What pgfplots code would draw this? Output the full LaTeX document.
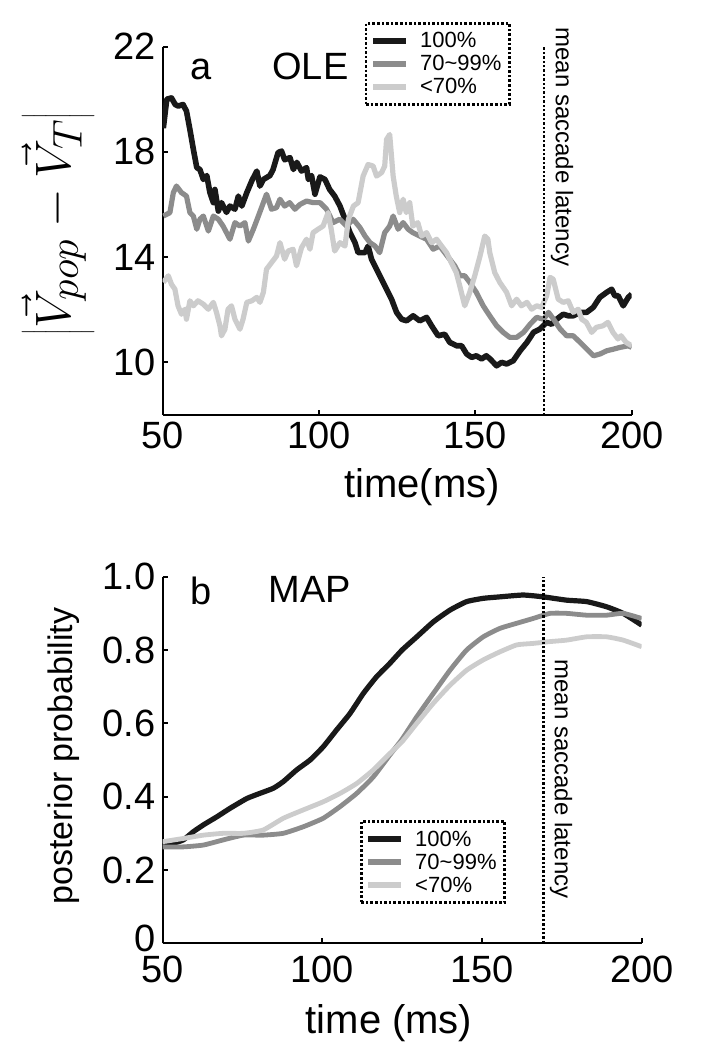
\documentclass[border=0pt]{standalone}
\usepackage{pgfplots}
\pgfplotsset{compat=1.18}
\usepackage{fontspec}
\setmainfont{Liberation Sans}
\definecolor{cBlack}{gray}{0.1}
\definecolor{cDark}{gray}{0.55}
\definecolor{cLight}{gray}{0.8}
\begin{document}
\begin{tikzpicture}
\useasboundingbox (0,0) rectangle (352.5pt,525pt);
\pgfplotsset{
  myaxis/.style={
    scale only axis,
    axis x line*=bottom, axis y line*=left,
    axis line style={line width=1pt,-},
    every tick/.style={black, line width=1pt},
    major tick length=2.5pt,
    tick align=inside,
    xmin=50,xmax=200, xtick={50,100,150,200},
    tick label style={font=\fontsize{19}{22}\selectfont},
    /pgf/number format/assume math mode=true,
    legend cell align=left,
    legend style={draw=black, densely dotted, line width=1.3pt, font=\fontsize{11}{13}\selectfont,
      inner xsep=2pt, inner ysep=3pt, row sep=0pt, anchor=north west,
      nodes={text height=8.7pt, text depth=1.6pt, inner ysep=0.6pt, inner xsep=2pt}},
    legend image code/.code={\draw[#1, solid, line width=3pt] (0pt,0pt) -- (16.5pt,0pt);},
  }
}
% ---------------- top panel (OLE)
\begin{axis}[myaxis, at={(81.35pt,317.5pt)}, anchor=south west, width=234.5pt, height=184.2pt,
  ymin=8, ymax=22, ytick={10,14,18,22}, legend style={at={(0.431,1.067)}}]
\addplot[cBlack, line width=2.8pt, line join=round] coordinates {
(50.2,18.9)(51.3,20.0)(52.8,20.05)(54.0,19.8)(55.0,19.74)(56.5,19.8)(57.6,19.55)(58.7,18.85)(59.8,18.1)(60.9,17.4)(61.9,17.33)(63.0,16.95)(64.1,17.1)(65.1,16.45)(66.2,16.07)(66.7,16.57)(67.8,15.75)(68.8,16.07)(70.4,15.7)(71.5,15.94)(73.1,15.82)(74.2,16.32)(75.3,15.94)(76.9,16.45)(78.5,16.9)(80.1,17.27)(81.1,16.7)(82.2,16.95)(84.3,17.1)(85.3,17.33)(86.9,17.97)(88.0,18.03)(89.0,17.7)(90.7,17.78)(91.8,17.33)(92.9,17.6)(94.4,17.27)(96.0,17.4)(96.6,16.95)(97.6,17.1)(98.7,16.39)(100.3,17.05)(101.9,16.95)(103.4,16.57)(105.0,16.32)(106.7,15.94)(108.3,15.44)(109.9,14.93)(111.5,14.55)(112.5,14.17)(114.7,14.17)(115.7,14.42)(116.8,13.92)(118.4,13.54)(120.0,13.16)(121.6,12.78)(123.2,12.40)(124.8,11.9)(126.4,11.64)(128.0,11.58)(130.1,11.77)(132.2,11.58)(134.4,11.71)(136.0,11.39)(138.1,11.01)(140.2,11.07)(141.8,10.76)(144.0,10.63)(145.6,10.63)(147.2,10.32)(148.8,10.19)(150.3,10.25)(152.0,10.13)(153.5,10.25)(154.7,10.13)(156.8,9.87)(158.4,10.0)(160.0,9.94)(162.1,10.06)(164.3,10.44)(166.5,10.76)(168.6,11.14)(170.7,11.27)(172.8,11.52)(174.4,11.45)(176.0,11.64)(178.1,11.83)(179.7,11.77)(181.3,11.77)(183.5,11.9)(185.6,11.9)(187.7,12.09)(189.8,12.47)(192.0,12.66)(193.6,12.78)(194.6,12.53)(195.7,12.53)(197.3,12.15)(198.9,12.47)(200,12.59)
};
\addlegendentry{\hspace{3.5pt}100\%}
\addplot[cDark, line width=2.6pt, line join=round] coordinates {
(50.2,15.56)(52.3,15.69)(53.4,16.45)(54.4,16.7)(56.0,16.45)(57.6,16.32)(58.7,15.69)(59.8,15.56)(60.9,15.06)(61.9,15.44)(63.0,15.56)(64.6,14.99)(66.2,15.56)(67.8,15.44)(69.3,15.18)(71.5,14.68)(73.1,15.31)(74.7,15.18)(76.3,15.31)(77.4,14.61)(79.0,15.06)(80.6,15.56)(82.2,16.07)(83.2,16.39)(84.8,15.82)(86.4,15.88)(87.5,16.2)(89.0,15.94)(90.6,16.07)(92.3,15.82)(93.9,16.0)(96.0,16.13)(98.1,16.07)(100.3,16.07)(102.4,15.82)(104.5,15.31)(106.6,15.44)(108.8,15.18)(110.9,15.44)(113.1,15.12)(114.7,14.8)(116.3,14.55)(117.9,14.42)(119.4,14.17)(121.0,14.93)(122.6,15.18)(123.7,15.56)(125.3,15.06)(126.9,15.31)(128.5,15.06)(130.0,14.93)(132.2,14.8)(134.4,14.68)(136.5,14.3)(138.6,14.42)(140.2,14.17)(141.8,13.92)(143.4,13.67)(145.1,13.29)(146.6,13.29)(148.2,13.04)(150.3,12.66)(152.5,12.15)(154.6,11.77)(156.8,11.39)(158.9,11.14)(161.0,10.95)(163.2,10.95)(165.4,11.14)(167.5,11.45)(169.6,11.71)(171.8,11.64)(173.4,11.9)(175.0,11.64)(177.1,11.27)(179.2,11.01)(181.3,11.01)(183.5,10.76)(185.7,10.5)(187.8,10.25)(189.9,10.32)(192.0,10.44)(194.1,10.5)(196.3,10.57)(198.9,10.63)(200,10.57)
};
\addlegendentry{\hspace{3.5pt}70\textasciitilde 99\%}
\addplot[cLight, line width=2.6pt, line join=round] coordinates {
(50.2,13.04)(51.8,13.29)(52.8,12.97)(53.9,12.78)(54.9,12.15)(56.0,11.83)(57.1,12.02)(57.6,11.64)(58.7,12.34)(59.8,12.15)(61.3,12.34)(63.0,12.21)(64.6,12.02)(66.2,12.28)(67.2,11.9)(68.3,11.39)(68.8,11.01)(69.9,11.26)(70.9,12.02)(72.0,12.15)(73.1,11.64)(74.7,11.26)(75.7,11.64)(76.9,12.28)(78.5,12.34)(80.1,12.47)(81.1,12.28)(82.2,12.66)(83.2,13.54)(84.8,13.79)(86.4,14.04)(87.5,14.55)(89.0,13.92)(90.1,14.23)(91.7,14.3)(92.8,13.67)(94.4,14.36)(96.0,14.68)(97.1,14.3)(98.1,14.93)(99.7,15.06)(101.3,15.18)(102.9,15.69)(103.9,15.06)(105.0,14.23)(106.7,14.55)(108.3,14.42)(109.4,15.44)(111.0,15.94)(112.5,16.07)(114.1,17.08)(115.7,17.52)(117.3,17.46)(118.4,17.08)(120.0,17.21)(121.0,17.46)(121.6,18.47)(122.6,18.66)(123.7,17.08)(124.7,16.32)(125.8,15.69)(126.9,16.2)(127.9,15.69)(129.0,16.07)(130.0,15.18)(131.6,15.31)(132.8,14.8)(134.4,14.93)(136.0,14.55)(137.6,14.68)(139.2,14.42)(140.8,14.17)(142.3,13.79)(143.9,13.41)(145.0,12.91)(146.6,12.15)(148.2,12.66)(149.8,13.29)(151.4,14.0)(153.0,14.8)(154.0,14.68)(154.6,14.17)(156.2,13.41)(157.8,13.04)(160.0,12.66)(161.6,12.15)(163.2,12.4)(164.7,12.15)(166.5,12.28)(168.0,12.02)(169.6,12.15)(171.2,12.09)(172.8,12.53)(173.9,13.23)(174.9,13.16)(176.5,12.4)(178.1,12.28)(179.7,12.34)(181.3,11.9)(182.9,12.02)(184.0,11.64)(185.5,11.52)(187.2,11.14)(188.7,11.33)(190.8,11.39)(192.4,11.52)(194.0,11.14)(195.6,10.89)(196.6,11.01)(198.2,10.76)(200,10.63)
};
\addlegendentry{\hspace{3.5pt}<70\%}
\addplot[black, densely dotted, line width=1.2pt, forget plot] coordinates {(172,8) (172,22)};
\end{axis}
% ---------------- bottom panel (MAP)
\begin{axis}[myaxis, at={(81.25pt,53.35pt)}, anchor=south west, width=239.6pt, height=183.3pt,
  ymin=0, ymax=1, ytick={0,0.2,0.4,0.6,0.8,1}, yticklabels={\raisebox{5pt}{0},0.2,0.4,0.6,0.8,1.0},
  xticklabel style={yshift=-3pt},
  legend style={at={(0.412,0.336)}}]
\addplot[cBlack, line width=2.6pt, smooth, tension=0.3] coordinates {
(50,0.27)(53,0.272)(56.5,0.282)(59.6,0.304)(62.8,0.323)(67.0,0.345)(71.1,0.368)(76.4,0.395)(80.5,0.409)(84.7,0.423)(87.8,0.441)(92.0,0.473)(96.2,0.5)(100.3,0.536)(104.5,0.582)(108.7,0.627)(112.9,0.682)(117.0,0.727)(121.2,0.764)(125,0.80)(129.6,0.836)(134.8,0.877)(140.0,0.909)(145.2,0.932)(150.4,0.941)(155.6,0.945)(162.9,0.95)(169.2,0.945)(176.5,0.936)(182.8,0.932)(189.0,0.918)(194.2,0.9)(200,0.868)
};
\addlegendentry{\hspace{3.5pt}100\%}
\addplot[cDark, line width=2.4pt, smooth, tension=0.3] coordinates {
(50,0.263)(56.5,0.263)(62.8,0.268)(69.0,0.282)(75.3,0.295)(81.5,0.295)(87.8,0.3)(94.1,0.318)(100.3,0.341)(105.6,0.373)(110.8,0.409)(116.0,0.454)(121.2,0.514)(125,0.557)(129.6,0.618)(134.8,0.682)(140.0,0.745)(145.2,0.8)(150.4,0.836)(155.6,0.859)(160.9,0.873)(166.0,0.886)(171.3,0.9)(176.5,0.9)(182.8,0.895)(189.0,0.895)(194.2,0.9)(200,0.886)
};
\addlegendentry{\hspace{3.5pt}70\textasciitilde 99\%}
\addplot[cLight, line width=2.4pt, smooth, tension=0.3] coordinates {
(50,0.277)(56.5,0.286)(62.8,0.295)(69.0,0.3)(75.3,0.3)(81.5,0.309)(87.8,0.341)(94.1,0.364)(100.3,0.386)(105.6,0.409)(110.8,0.436)(116.0,0.473)(121.2,0.518)(125,0.55)(129.6,0.6)(134.8,0.655)(140,0.704)(145.2,0.745)(150.4,0.773)(155.6,0.795)(160.9,0.814)(166,0.818)(171.3,0.823)(176.5,0.827)(182.8,0.836)(189,0.836)(194.2,0.827)(200,0.809)
};
\addlegendentry{\hspace{3.5pt}<70\%}
\addplot[black, densely dotted, line width=1.2pt, forget plot] coordinates {(169.2,0) (169.2,1)};
\end{axis}
% ---------------- texts
\node[anchor=base west, inner sep=0pt, font=\fontsize{19}{22}\selectfont] at (95pt,485pt) {a};
\node[anchor=base west, inner sep=0pt, font=\fontsize{19}{22}\selectfont] at (136pt,485pt) {OLE};
\node[rotate=-90, font=\fontsize{12}{14}\selectfont] at (281pt,451.5pt) {mean saccade latency};
\node[font=\fontsize{20}{24}\selectfont] at (211pt,281.5pt) {time(ms)};
\node[rotate=90, font=\fontsize{30}{36}\selectfont] at (29pt,413pt) {$\left|\vec{V}_{pop}-\vec{V}_{T}\right|$};
\node[anchor=base west, inner sep=0pt, font=\fontsize{19}{22}\selectfont] at (95pt,222.5pt) {b};
\node[anchor=base west, inner sep=0pt, font=\fontsize{19}{22}\selectfont] at (134pt,223.5pt) {MAP};
\node[rotate=-90, font=\fontsize{12}{14}\selectfont] at (280.5pt,135.5pt) {mean saccade latency};
\node[font=\fontsize{20}{24}\selectfont] at (194.5pt,13.5pt) {time (ms)};
\node[rotate=90, font=\fontsize{17}{20}\selectfont] at (32pt,147pt) {posterior probability};
\end{tikzpicture}
\end{document}
